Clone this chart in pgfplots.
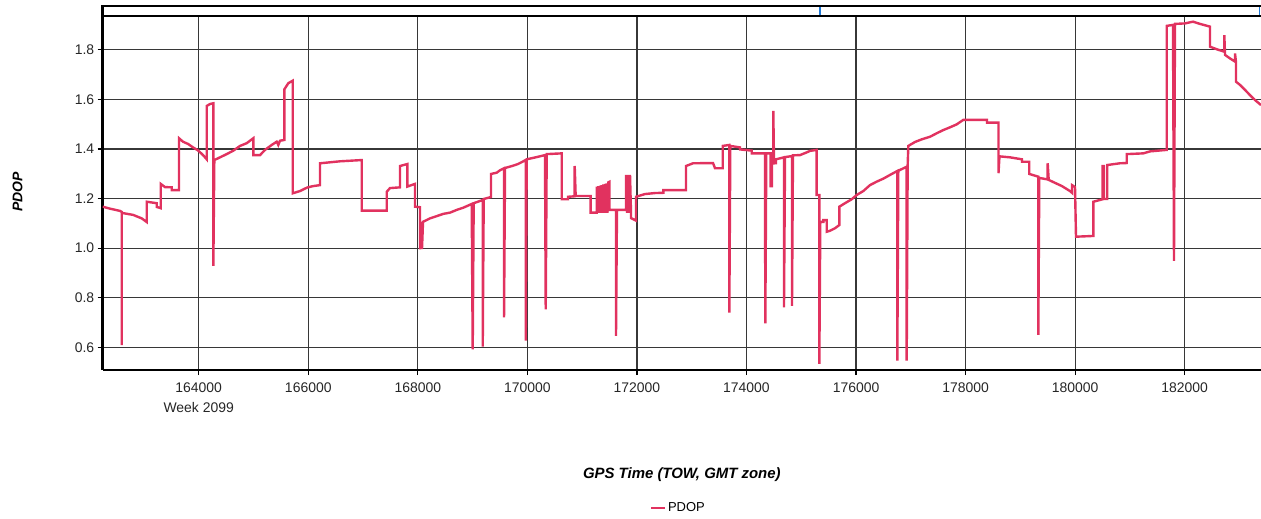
\documentclass[border=0pt]{standalone}
\usepackage{pgfplots}
\pgfplotsset{compat=1.18}
\usepackage{fontspec}
\setmainfont{Liberation Sans}
\definecolor{pdop}{RGB}{225,50,95}
\definecolor{gridc}{RGB}{55,55,55}
\definecolor{barblue}{RGB}{30,120,215}
\begin{document}
\begin{tikzpicture}
\path[use as bounding box] (-102.7bp,-149bp) rectangle (1158.3bp,370bp);
\begin{axis}[
  name=ax,
  at={(0,0)}, anchor=south west,
  scale only axis, width=1158.3bp, height=354.3bp,
  xmin=162247, xmax=183393, ymin=0.5085, ymax=1.9371,
  axis x line*=bottom, axis y line*=left,
  axis line style={line width=2.8bp, black},
  xtick={164000,166000,168000,170000,172000,174000,176000,178000,180000,182000},
  ytick={0.6,0.8,1.0,1.2,1.4,1.6,1.8},
  scaled x ticks=false, scaled y ticks=false,
  xticklabel style={/pgf/number format/fixed, /pgf/number format/precision=0, /pgf/number format/1000 sep={}, yshift=-4bp},
  yticklabel style={/pgf/number format/fixed, /pgf/number format/fixed zerofill, /pgf/number format/precision=1},
  /pgf/number format/assume math mode=true,
  grid=major, major grid style={line width=1.2bp, gridc},
  xtick align=outside, ytick align=outside,
  major tick length=5bp, tick style={line width=1.2bp, black},
  tick label style={font=\fontsize{14}{16}\selectfont, text=black!85},
  xlabel={GPS Time (TOW, GMT zone)},
  ylabel={PDOP},
  xlabel style={at={(axis description cs:0.5,-0.2964)}, anchor=center, font=\bfseries\itshape\fontsize{15}{18}\selectfont},
  ylabel style={at={(axis description cs:-0.0736,0.503)}, anchor=center, font=\bfseries\itshape\fontsize{14}{17}\selectfont},
  legend style={at={(0.497,-0.39)}, anchor=center, draw=none, fill=none,
    font=\fontsize{13}{15}\selectfont, inner sep=0pt},
  legend image code/.code={\draw[#1, line width=2.2bp] (0bp,0bp) -- (14bp,0bp);},
]
\addplot[pdop, line width=2.4bp, line join=miter, no marks] coordinates {
(162247,1.167) (162381,1.159) (162563,1.150)
(162594,1.146) (162594,0.609) (162594,1.142)
(162801,1.134) (162959,1.120) (163051,1.105)
(163051,1.187) (163233,1.181)
(163233,1.166) (163306,1.161)
(163306,1.259)
(163385,1.246) (163507,1.245) (163507,1.234) (163640,1.234)
(163640,1.443)
(163713,1.429) (163805,1.420) (163896,1.406) (163987,1.394) (164079,1.375) (164146,1.358)
(164146,1.573) (164206,1.581) (164267,1.584)
(164267,0.928) (164285,1.355)
(164389,1.366) (164511,1.379) (164632,1.393) (164754,1.412) (164876,1.423) (164997,1.443)
(164997,1.375) (165119,1.375) (165210,1.396) (165333,1.416) (165424,1.429) (165453,1.416) (165484,1.433) (165563,1.436)
(165563,1.640) (165636,1.665) (165716,1.675)
(165716,1.221) (165849,1.230) (165977,1.244) (166087,1.250) (166215,1.254)
(166215,1.342) (166580,1.350) (166976,1.355)
(166976,1.151) (167432,1.151)
(167432,1.227) (167492,1.242) (167675,1.245)
(167675,1.331) (167808,1.339)
(167808,1.248) (167949,1.259)
(167949,1.167) (168040,1.165)
(168040,0.995) (168058,1.106) (168076,0.996) (168095,1.106)
(168223,1.120) (168345,1.129) (168465,1.138) (168588,1.143) (168710,1.154) (168831,1.163) (168984,1.178)
(169002,0.592) (169020,1.181)
(169185,1.194) (169185,0.603) (169203,1.198)
(169336,1.206) (169336,1.299) (169440,1.304) (169501,1.314) (169574,1.322)
(169574,0.721) (169592,1.323)
(169720,1.331) (169829,1.339) (169970,1.355)
(169970,0.627) (169988,1.358)
(170171,1.367) (170322,1.375)
(170335,0.753) (170353,1.379)
(170627,1.382) (170627,1.197)
(170742,1.197) (170742,1.207) (170864,1.209)
(170864,1.331) (170882,1.210)
(171156,1.210) (171156,1.143) (171266,1.143)
(171266,1.248) (171281,1.142) (171296,1.250) (171312,1.142) (171326,1.252) (171341,1.142) (171357,1.254) (171372,1.142) (171387,1.257) (171403,1.142) (171417,1.259) (171432,1.142) (171448,1.261) (171463,1.142) (171478,1.265) (171496,1.267) (171496,1.154)
(171618,1.154) (171618,0.646) (171636,1.154) (171801,1.154)
(171801,1.295) (171819,1.142) (171837,1.295) (171855,1.142) (171874,1.295) (171892,1.142) (171892,1.121)
(171983,1.111) (171983,1.207) (172148,1.218) (172330,1.222) (172482,1.223) (172482,1.234) (172896,1.234)
(172896,1.331) (173024,1.342) (173389,1.343) (173426,1.322) (173566,1.322)
(173566,1.412) (173687,1.416)
(173687,0.740) (173705,1.412)
(173882,1.406) (173882,1.398) (174096,1.393) (174096,1.382) (174338,1.382)
(174344,0.697) (174362,1.382) (174442,1.382)
(174442,1.250) (174466,1.250) (174466,1.343) (174490,1.342) (174490,1.553) (174503,1.342) (174539,1.342)
(174539,1.358) (174685,1.366)
(174685,0.761) (174704,1.367)
(174831,1.371)
(174831,0.767) (174849,1.374) (174977,1.375)
(175100,1.386) (175160,1.392) (175282,1.396)
(175282,1.214) (175330,1.214)
(175330,0.533) (175348,1.106) (175403,1.106) (175403,1.113) (175465,1.113)
(175465,1.066) (175525,1.070) (175616,1.080) (175695,1.093)
(175695,1.167) (175799,1.181) (175921,1.197) (176012,1.214) (176133,1.230) (176255,1.254) (176378,1.268) (176498,1.280) (176620,1.295) (176754,1.311)
(176754,0.546) (176772,1.312) (176925,1.328)
(176925,0.546) (176943,1.335)
(176955,1.412) (177077,1.428) (177205,1.439) (177351,1.449) (177473,1.463) (177593,1.476) (177716,1.487) (177838,1.499) (177959,1.517) (178391,1.517) (178391,1.506) (178601,1.506)
(178601,1.302) (178619,1.370)
(178811,1.366) (179030,1.358) (179030,1.348) (179163,1.348)
(179163,1.299) (179328,1.288)
(179328,0.650) (179346,1.283)
(179499,1.277) (179499,1.342) (179518,1.275)
(179633,1.263) (179760,1.250) (179906,1.230) (179943,1.223) (179943,1.254) (179998,1.246)
(180016,1.046) (180332,1.049)
(180332,1.187) (180503,1.197)
(180503,1.331) (180527,1.331) (180527,1.198) (180587,1.198)
(180587,1.335) (180819,1.342) (180942,1.343)
(180942,1.379) (181245,1.382) (181367,1.390) (181672,1.396)
(181672,1.896) (181787,1.900)
(181805,0.949) (181823,1.904)
(182006,1.906) (182152,1.913) (182280,1.904) (182463,1.893)
(182463,1.812) (182609,1.800) (182724,1.792)
(182724,1.859) (182737,1.779)
(182827,1.765) (182919,1.752) (182919,1.785) (182937,1.750)
(182937,1.671) (183010,1.658) (183101,1.638) (183192,1.617) (183284,1.597) (183393,1.577)
};
\addlegendentry{PDOP}
\end{axis}
\draw[line width=1.8bp, black] (ax.north west) -- (ax.north east);
\draw[line width=1.7bp, black] ([yshift=9.4bp]ax.north west) -- ([yshift=9.4bp]ax.north east);
\draw[line width=2.8bp, black] ([yshift=-1bp]ax.north west) -- ([yshift=10.25bp]ax.north west);
\draw[line width=1.3bp, barblue] ([xshift=717.3bp,yshift=1bp]ax.north west) -- ([xshift=717.3bp,yshift=8.5bp]ax.north west);
\draw[line width=1.3bp, barblue] ([xshift=1157bp,yshift=1bp]ax.north west) -- ([xshift=1157bp,yshift=8.5bp]ax.north west);
\node[font=\fontsize{14}{16}\selectfont, text=black!85, anchor=center] at ([xshift=96bp,yshift=-38bp]ax.south west) {Week 2099};
\end{tikzpicture}
\end{document}
